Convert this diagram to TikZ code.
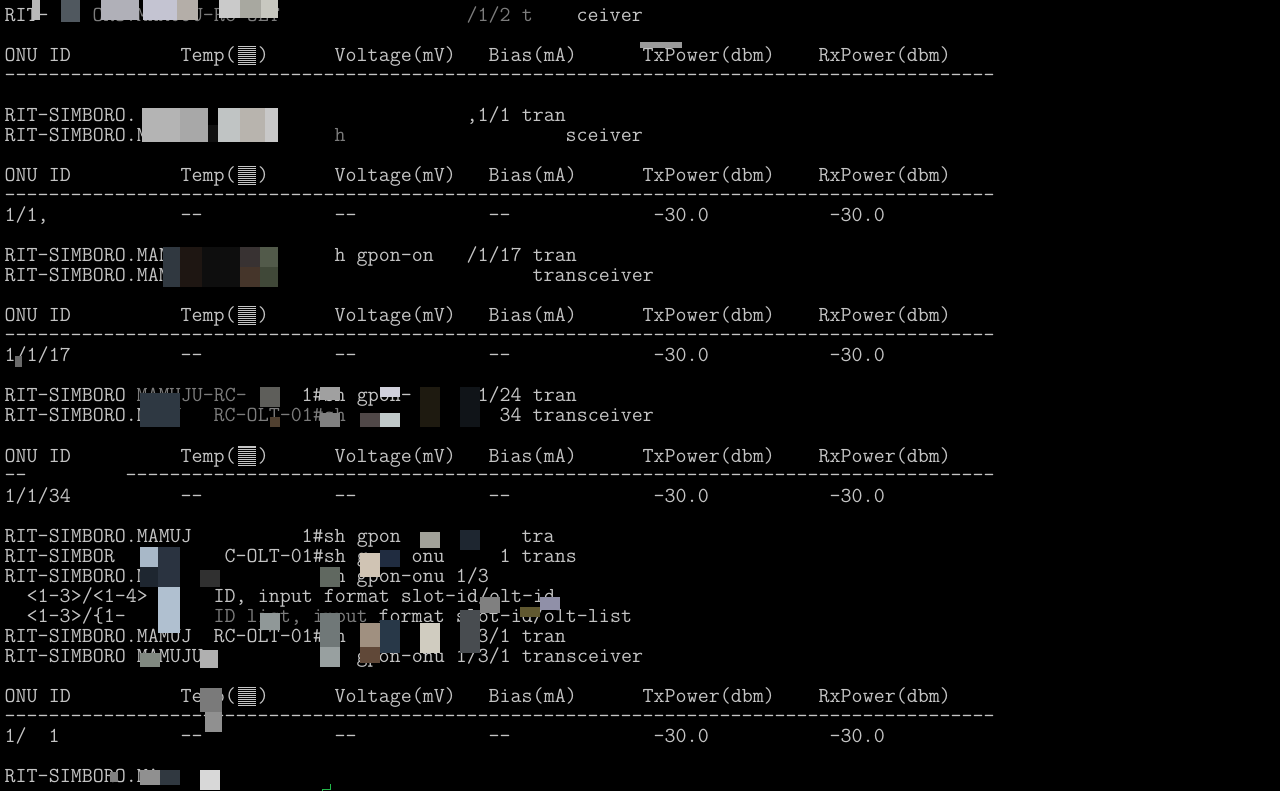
\documentclass[tikz,border=0pt]{standalone}
\usepackage{fontspec}
\usetikzlibrary{positioning}

\definecolor{termbg}{HTML}{000000}
\definecolor{termfg}{HTML}{C4C4C4}
\definecolor{termdim}{HTML}{7C7C7C}
\definecolor{cursorgreen}{HTML}{22B84A}

\newlength\chw
\setlength\chw{11pt}
\newcommand\atcol[2]{\makebox[0pt][l]{\hspace*{#1\chw}#2}}
\newcommand\dashrun[1]{\foreach\k in {1,...,#1}{\makebox[\chw][c]{-}}}
\newcommand\degbox{\makebox[22pt]{\raisebox{-4pt}{\tikz[x=1pt,y=1pt]{%
  \fill[termbg] (0,0) rectangle (20,20);
  \foreach\k in {1,3,...,19} \draw[termfg,line width=1pt] (1,\k) -- (19,\k);}}}}
\newcommand\header{\atcol{0}{ONU ID}\atcol{16}{Temp(\degbox)}\atcol{30}{Voltage(mV)}%
  \atcol{44}{Bias(mA)}\atcol{58}{TxPower(dbm)}\atcol{74}{RxPower(dbm)}}
\newcommand\values{\atcol{16}{-{}-}\atcol{30}{-{}-}\atcol{44}{-{}-}%
  \atcol{59}{-30.0}\atcol{75}{-30.0}}

\begin{document}
\begin{tikzpicture}[x=1pt,y=-1pt,
    term/.style={anchor=base west,inner sep=0pt,text=termfg,
                 font=\ttfamily\fontsize{21.39}{22}\selectfont},
    dim/.style={text=termdim}]

  \useasboundingbox (0,0) rectangle (1280,791);
  \fill[termbg] (0,0) rectangle (1280,791);

  \node[term] (r1)  at (4,22)  {\atcol{0}{RIT-}\atcol{8}{\color{termdim}ORO.MAMUJU-RC-OLT}%
                                \atcol{42}{\color{termdim}/1/2 t}\atcol{52}{ceiver}};
  \node[term] (r3)  at (4,62)  {\header};
  \node[term] (r4)  at (4,82)  {\atcol{0}{\dashrun{90}}};
  \node[term] (r6)  at (4,122) {\atcol{0}{RIT-SIMBORO.}\atcol{42}{,1/1 tran}};
  \node[term] (r7)  at (4,142) {\atcol{0}{RIT-SIMBORO.M}\atcol{30}{\color{termdim}h}\atcol{51}{sceiver}};
  \node[term] (r9)  at (4,182) {\header};
  \node[term] (r10) at (4,202) {\atcol{0}{\dashrun{90}}};
  \node[term] (r11) at (4,222) {\atcol{0}{1/1,}\values};
  \node[term] (r13) at (4,262) {\atcol{0}{RIT-SIMBORO.MAN}\atcol{30}{h gpon-on}\atcol{42}{/1/17 tran}};
  \node[term] (r14) at (4,282) {\atcol{0}{RIT-SIMBORO.MAM}\atcol{48}{transceiver}};
  \node[term] (r16) at (4,322) {\header};
  \node[term] (r17) at (4,342) {\atcol{0}{\dashrun{90}}};
  \node[term] (r18) at (4,362) {\atcol{0}{1/1/17}\values};
  \node[term] (r20) at (4,402) {\atcol{0}{RIT-SIMBORO}\atcol{12}{\color{termdim}MAMUJU-RC-}%
                                \atcol{27}{1\#sh gpon-}\atcol{43}{1/24 tran}};
  \node[term] (r21) at (4,422) {\atcol{0}{RIT-SIMBORO.MAMU}\atcol{19}{\color{termdim}RC-OLT-01\#sh}%
                                \atcol{45}{34 transceiver}};
  \node[term] (r23) at (4,462) {\header};
  \node[term] (r24) at (4,482) {\atcol{0}{-{}-}\atcol{11}{\dashrun{79}}};
  \node[term] (r25) at (4,502) {\atcol{0}{1/1/34}\values};
  \node[term] (r27) at (4,542) {\atcol{0}{RIT-SIMBORO.MAMUJ}\atcol{27}{1\#sh gpon}\atcol{47}{tra}};
  \node[term] (r28) at (4,562) {\atcol{0}{RIT-SIMBOR}\atcol{20}{C-OLT-01\#sh g}\atcol{37}{onu}\atcol{45}{1 trans}};
  \node[term] (r29) at (4,582) {\atcol{0}{RIT-SIMBORO.MA}\atcol{30}{h gpon-onu 1/3}};
  \node[term] (r30) at (4,602) {\atcol{2}{<1-3>/<1-4>}\atcol{19}{ID, input format slot-id/olt-id}};
  \node[term] (r31) at (4,622) {\atcol{2}{<1-3>/\{1-}\atcol{19}{\color{termdim}ID list, input}%
                                \atcol{34}{format slot-id/olt-list}};
  \node[term] (r32) at (4,642) {\atcol{0}{RIT-SIMBORO.MAMUJ}\atcol{19}{RC-OLT-01\#sh}\atcol{42}{/3/1 tran}};
  \node[term] (r33) at (4,662) {\atcol{0}{RIT-SIMBORO MAMUJU}\atcol{32}{gpon-onu 1/3/1 transceiver}};
  \node[term] (r35) at (4,702) {\header};
  \node[term] (r36) at (4,722) {\atcol{0}{\dashrun{90}}};
  \node[term] (r37) at (4,742) {\atcol{0}{1/}\atcol{4}{1}\values};
  \node[term] (r39) at (4,782) {\atcol{0}{RIT-SIMBORO.MA}};

  \foreach \a/\b/\c/\d/\h in {
      32/0/40/20/B8B8B8, 61/0/80/22/50585F, 101/0/139/20/B0B0B8, 143/0/177/20/C4C4D2,
      177/0/198/20/B4AEA8, 219/0/240/18/CACACA, 240/0/261/18/A8A8A0, 261/0/278/18/C8C8C0,
      640/42/682/48/9A9A9A,
      142/108/180/142/B4B4B4, 180/108/208/142/A8A8A8, 208/125/218/142/101010,
      218/108/240/142/C0C4C4, 240/108/265/142/B8B4AE, 265/108/278/142/C8C8C8,
      163/247/180/287/303840, 180/247/202/287/1E1612, 202/247/240/287/0E0E0E,
      240/247/260/267/383232, 240/267/260/287/45352A, 260/247/278/267/525A4A,
      260/267/278/287/404838,
      15/356/22/367/6A6A6A,
      140/393/180/427/2E3842, 260/387/280/407/5E5E5A, 270/417/280/427/504030,
      320/387/340/400/A0A0A0, 320/413/340/427/808080, 360/413/380/427/504848,
      380/387/400/397/D0D0DC, 380/413/400/427/C0C8C8, 420/387/440/427/1E1A10,
      460/387/480/427/101418,
      420/532/440/548/A0A098, 460/530/480/550/1E2630, 140/547/158/567/A8B8C8,
      158/547/180/587/2A3340, 140/567/158/587/1E2630, 158/587/180/633/B0C0D0,
      200/570/220/587/303030, 260/613/280/630/909898, 320/567/340/587/606860,
      320/613/340/647/707878, 320/647/340/667/98A0A0, 360/553/380/577/D0C4B4,
      380/550/400/567/202C40, 360/623/380/647/A09080, 360/647/380/663/604838,
      380/620/400/653/283848, 420/623/440/653/D0CCC0, 460/610/480/653/484C50,
      480/597/500/613/808080, 520/607/540/617/605830, 540/597/560/610/9090A8,
      200/650/218/668/B0B0B0, 140/653/160/667/808880,
      200/688/222/712/7A7A7A, 205/712/222/732/909090,
      110/772/118/782/808080, 140/770/160/785/909090, 160/770/180/785/303840,
      200/770/220/790/D8D8D8} {
    \edef\mosdef{\noexpand\definecolor{mosaic}{HTML}{\h}}\mosdef
    \fill[mosaic] (\a,\b) rectangle (\c,\d);
  }

  \coordinate (cur) at (322,789);
  \draw[cursorgreen,line width=1pt] ([yshift=-5pt]cur) -- (cur) -- ++(8,0) -- ++(0,-5);
\end{tikzpicture}
\end{document}
